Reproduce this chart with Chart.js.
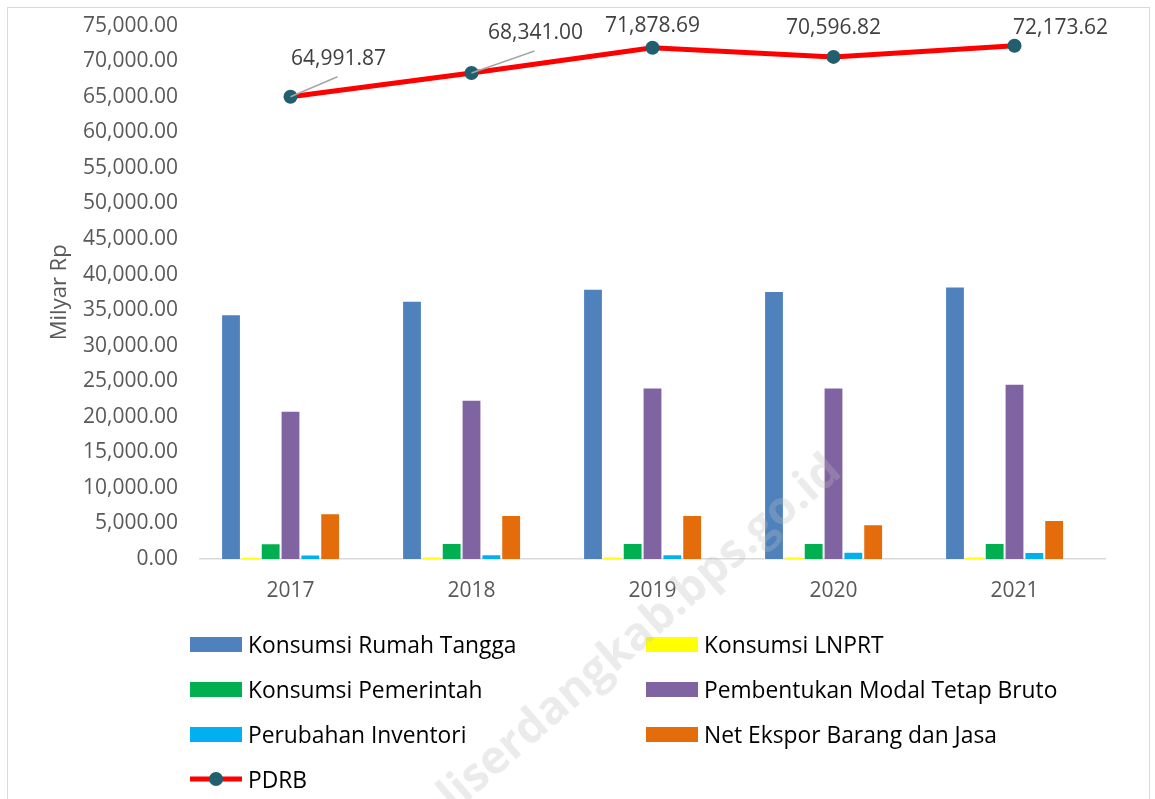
<!DOCTYPE html>
<html><head><meta charset="utf-8">
<script src="https://cdn.jsdelivr.net/npm/chart.js@4.4.1/dist/chart.umd.min.js"></script>
<style>
html,body{margin:0;padding:0;background:#fff;width:1155px;height:799px;overflow:hidden;font-family:"Open Sans",sans-serif;}
#frame{position:absolute;left:7px;top:7px;width:1143px;height:820px;border:1.5px solid #D9D9D9;box-sizing:border-box;}
#wrap{position:absolute;left:0;top:-9px;width:1155px;height:629px;}
#legend{position:absolute;left:0;top:0;width:1155px;height:799px;pointer-events:none;}
.li{position:absolute;display:flex;align-items:center;font-size:22.8px;color:#000;white-space:nowrap;}
.sw{width:52px;height:15px;margin-right:6px;}
#wm{position:absolute;left:400px;top:805px;font-size:46px;font-weight:bold;color:rgba(190,190,190,0.3);transform:rotate(-41deg);transform-origin:left center;white-space:nowrap;}
</style></head>
<body>
<div id="frame"></div>
<div id="wrap"><canvas id="c" width="1155" height="629"></canvas></div>
<div id="legend"></div>
<div id="wm">deliserdangkab.bps.go.id</div>
<script>
const categories = ["2017","2018","2019","2020","2021"];
const konsumsiRumahTangga = [34400, 36300, 38000, 37700, 38300];
const konsumsiLNPRT = [330, 340, 350, 340, 350];
const konsumsiPemerintah = [2200, 2250, 2250, 2250, 2250];
const pembentukanModal = [20850, 22400, 24100, 24100, 24650];
const perubahanInventori = [620, 670, 670, 1030, 1000];
const netEkspor = [6450, 6200, 6200, 4900, 5500];
const pdrb = [64991.87, 68341.00, 71878.69, 70596.82, 72173.62];
const yTicks = {min: 0, max: 75000, step: 5000};

const labelOffsets = [[48,-38],[64,-40],[0,-22],[0,-29],[46,-18]];
const leaderLines = [true,true,false,false,false];

const fmt = v => v.toLocaleString('en-US',{minimumFractionDigits:2,maximumFractionDigits:2});

const barDefs = [
  ["Konsumsi Rumah Tangga", konsumsiRumahTangga, "#4F81BD"],
  ["Konsumsi LNPRT", konsumsiLNPRT, "#FFFF00"],
  ["Konsumsi Pemerintah", konsumsiPemerintah, "#00B050"],
  ["Pembentukan Modal Tetap Bruto", pembentukanModal, "#8064A2"],
  ["Perubahan Inventori", perubahanInventori, "#00B0F0"],
  ["Net Ekspor Barang dan Jasa", netEkspor, "#E46C0A"]
];

const datasets = barDefs.map(d => ({
  type:'bar', label:d[0], data:d[1], backgroundColor:d[2],
  borderColor:'rgba(255,255,255,0.55)', borderWidth:1,
  barPercentage:1.0, categoryPercentage:0.767, order:2
}));
// empty slot in the column group (as in the original spreadsheet chart)
datasets.push({type:'bar', label:'', data:[null,null,null,null,null], backgroundColor:'rgba(0,0,0,0)',
  barPercentage:1.0, categoryPercentage:0.767, order:3});
datasets.push({
  type:'line', label:'PDRB', data:pdrb, borderColor:'#FF0000', borderWidth:5,
  pointBackgroundColor:'#215F6E', pointBorderColor:'#215F6E', pointRadius:7, pointBorderWidth:0,
  tension:0, order:1
});

const labelPlugin = {
  id:'pdrbLabels',
  afterDatasetsDraw(chart){
    const ctx = chart.ctx;
    const meta = chart.getDatasetMeta(datasets.length-1);
    ctx.save();
    ctx.font = '21px "Open Sans"';
    ctx.fillStyle = '#404040';
    ctx.textAlign = 'center';
    ctx.textBaseline = 'middle';
    meta.data.forEach((pt,i) => {
      const [dx,dy] = labelOffsets[i];
      const lx = pt.x + dx, ly = pt.y + dy;
      if (leaderLines[i]) {
        ctx.strokeStyle = '#A6A6A6'; ctx.lineWidth = 1.5;
        ctx.beginPath(); ctx.moveTo(pt.x, pt.y); ctx.lineTo(lx - 1, ly + 18); ctx.stroke();
      }
      ctx.fillText(fmt(pdrb[i]), lx, ly);
    });
    ctx.restore();
  }
};

Chart.defaults.font.family = '"Open Sans", sans-serif';
const chart = new Chart(document.getElementById('c'), {
  data:{labels:categories, datasets},
  options:{
    responsive:false, animation:false,
    layout:{padding:{top:6,right:50,bottom:0,left:47}},
    plugins:{legend:{display:false}, tooltip:{enabled:false}},
    scales:{
      x:{
        grid:{display:false, drawTicks:false},
        border:{color:'#D9D9D9', width:1.5},
        ticks:{color:'#595959', font:{size:21}, padding:19},
        afterFit(s){ s.height = 61; }
      },
      y:{
        min:yTicks.min, max:yTicks.max,
        grid:{display:false, drawTicks:false},
        border:{display:false},
        ticks:{stepSize:yTicks.step, color:'#595959', font:{size:21}, padding:22, callback:v=>fmt(v)},
        title:{display:true, text:'Milyar Rp', color:'#595959', font:{size:22}, padding:{top:0,bottom:4}},
        afterFit(s){ s.width = 153; }
      }
    }
  },
  plugins:[labelPlugin]
});

// HTML legend in two columns
const leg = document.getElementById('legend');
const rows = [644, 689, 734, 779];
const cols = [190, 646];
barDefs.forEach((d,i) => {
  const el = document.createElement('div');
  el.className = 'li';
  el.style.left = cols[i%2] + 'px';
  el.style.top = (rows[Math.floor(i/2)] - 15) + 'px';
  el.style.height = '30px';
  el.innerHTML = '<div class="sw" style="background:'+d[2]+'"></div><span>'+d[0]+'</span>';
  leg.appendChild(el);
});
const pl = document.createElement('div');
pl.className = 'li';
pl.style.left = cols[0] + 'px';
pl.style.top = (rows[3] - 15) + 'px';
pl.style.height = '30px';
pl.innerHTML = '<svg width="52" height="20" style="margin-right:6px"><line x1="0" y1="10" x2="52" y2="10" stroke="#FF0000" stroke-width="5"/><circle cx="26" cy="10" r="7" fill="#215F6E"/></svg><span>PDRB</span>';
leg.appendChild(pl);
</script>
</body></html>
